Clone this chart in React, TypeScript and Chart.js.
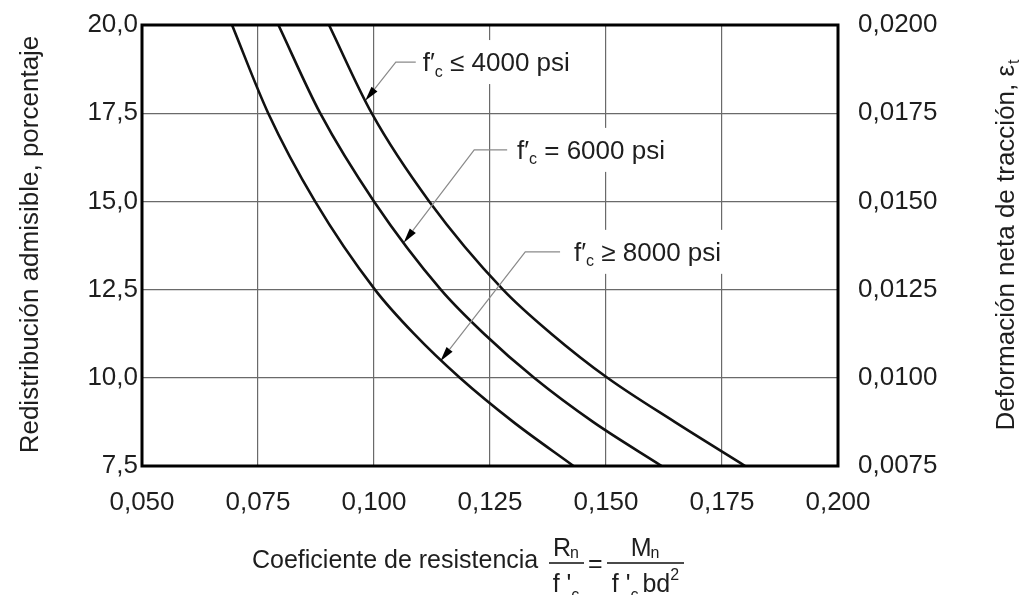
import React, { useEffect, useRef } from 'react';
import { Chart, registerables } from 'chart.js';

Chart.register(...registerables);

// ---- Data ----
const redistLevels = [20, 17.5, 15, 12.5, 11.25, 10, 8.75, 7.5];
const coef4000 = [0.0903, 0.0995, 0.1119, 0.1278, 0.1382, 0.1503, 0.1648, 0.1800];
const coef6000 = [0.0794, 0.0884, 0.1000, 0.1144, 0.1237, 0.1345, 0.1472, 0.1620];
const coef8000 = [0.0694, 0.0772, 0.0873, 0.1002, 0.1086, 0.1185, 0.1300, 0.1430];

const xTickValues = [0.05, 0.075, 0.1, 0.125, 0.15, 0.175, 0.2];
const yTickValues = [7.5, 10, 12.5, 15, 17.5, 20];
const y2TickValues = [0.0075, 0.01, 0.0125, 0.015, 0.0175, 0.02];

const seriesLabels = ['≤ 4000 psi', '= 6000 psi', '≥ 8000 psi'];
// annotation anchors in data coordinates: tip on curve, elbow, end of horizontal leader, text start
const annTipX = [0.0981, 0.1064, 0.1143];
const annTipY = [17.85, 13.83, 10.47];
const annElbowX = [0.1047, 0.1216, 0.1326];
const annElbowY = [18.95, 16.46, 13.57];
const annLineEndX = [0.1090, 0.1287, 0.1401];
const annTextX = [0.1105, 0.1308, 0.1431];

const FONT = '"Liberation Sans", Arial, Helvetica, sans-serif';
const TXT = '#1e1e1e';
const FS = 26;
const SUB = 16;

const toPts = (xs: number[]) => xs.map((x, i) => ({ x, y: redistLevels[i] }));

function drawFC(ctx: CanvasRenderingContext2D, x: number, y: number, rest: string, size: number) {
  ctx.font = `${size}px ${FONT}`;
  ctx.textBaseline = 'alphabetic';
  ctx.textAlign = 'left';
  const base = y + size * 0.36;
  ctx.fillText('f′', x, base);
  let cx = x + ctx.measureText('f′').width;
  ctx.font = `${SUB}px ${FONT}`;
  ctx.fillText('c', cx, base + size * 0.2);
  cx += ctx.measureText('c').width;
  ctx.font = `${size}px ${FONT}`;
  ctx.fillText(' ' + rest, cx, base);
  cx += ctx.measureText(' ' + rest).width;
  return cx;
}

const annotPlugin = {
  id: 'annotPlugin',
  beforeDatasetsDraw(chart: any) {
    const ctx: CanvasRenderingContext2D = chart.ctx;
    const xs = chart.scales.x;
    const ys = chart.scales.y;
    ctx.save();
    for (let i = 0; i < seriesLabels.length; i++) {
      const tx = xs.getPixelForValue(annTextX[i]);
      const ty = ys.getPixelForValue(annElbowY[i]);
      ctx.font = `${FS}px ${FONT}`;
      const w = ctx.measureText('f′c ' + seriesLabels[i]).width;
      ctx.fillStyle = '#ffffff';
      ctx.fillRect(tx - 8, ty - 22, w + 14, 44);
    }
    ctx.restore();
  },
  afterDatasetsDraw(chart: any) {
    const ctx: CanvasRenderingContext2D = chart.ctx;
    const xs = chart.scales.x;
    const ys = chart.scales.y;
    const { left, right, top, bottom } = chart.chartArea;
    ctx.save();
    // frame
    ctx.strokeStyle = '#000';
    ctx.lineWidth = 3;
    ctx.strokeRect(left, top, right - left, bottom - top);

    // annotations
    for (let i = 0; i < seriesLabels.length; i++) {
      const px = xs.getPixelForValue(annTipX[i]);
      const py = ys.getPixelForValue(annTipY[i]);
      const ex = xs.getPixelForValue(annElbowX[i]);
      const ey = ys.getPixelForValue(annElbowY[i]);
      const lx = xs.getPixelForValue(annLineEndX[i]);
      const tx = xs.getPixelForValue(annTextX[i]);
      const dx = px - ex, dy = py - ey;
      const len = Math.hypot(dx, dy);
      const ux = dx / len, uy = dy / len;
      const alen = 15, aw = 3.8;
      const bx = px - ux * alen, by = py - uy * alen;
      ctx.strokeStyle = '#8a8a8a';
      ctx.lineWidth = 1.2;
      ctx.beginPath();
      ctx.moveTo(lx, ey);
      ctx.lineTo(ex, ey);
      ctx.lineTo(bx, by);
      ctx.stroke();
      ctx.fillStyle = '#000';
      ctx.beginPath();
      ctx.moveTo(px, py);
      ctx.lineTo(bx - uy * aw, by + ux * aw);
      ctx.lineTo(bx + uy * aw, by - ux * aw);
      ctx.closePath();
      ctx.fill();
      ctx.fillStyle = TXT;
      drawFC(ctx, tx, ey, seriesLabels[i], FS);
    }

    // left axis title
    ctx.fillStyle = TXT;
    ctx.font = `${FS}px ${FONT}`;
    ctx.textAlign = 'center';
    ctx.textBaseline = 'middle';
    ctx.save();
    ctx.translate(31, (top + bottom) / 2 - 1);
    ctx.rotate(-Math.PI / 2);
    ctx.fillText('Redistribución admisible, porcentaje', 0, 0);
    ctx.restore();

    // right axis title with subscript
    ctx.save();
    ctx.translate(1005, (top + bottom) / 2 + 0);
    ctx.rotate(-Math.PI / 2);
    const rt = 'Deformación neta de tracción, ε';
    ctx.font = `${FS}px ${FONT}`;
    const rw = ctx.measureText(rt).width;
    ctx.font = `${SUB}px ${FONT}`;
    const sw = ctx.measureText('t').width;
    const start = -(rw + sw) / 2;
    ctx.textAlign = 'left';
    ctx.textBaseline = 'alphabetic';
    ctx.font = `${FS}px ${FONT}`;
    ctx.fillText(rt, start, 9);
    ctx.font = `${SUB}px ${FONT}`;
    ctx.fillText('t', start + rw + 1, 14);
    ctx.restore();

    // x axis title with fractions
    const XF = 25;
    ctx.textBaseline = 'alphabetic';
    ctx.textAlign = 'left';
    ctx.font = `${XF}px ${FONT}`;
    ctx.fillText('Coeficiente de resistencia', 252, 568);
    const barY = 563;
    // fraction 1
    const f1L = 549, f1R = 584, f1C = (f1L + f1R) / 2;
    ctx.fillRect(f1L, barY - 0.8, f1R - f1L, 1.6);
    ctx.font = `${XF}px ${FONT}`;
    const rW = ctx.measureText('R').width;
    ctx.font = `${SUB}px ${FONT}`;
    const nW = ctx.measureText('n').width;
    let sx = f1C - (rW + nW) / 2;
    ctx.font = `${XF}px ${FONT}`;
    ctx.fillText('R', sx, 556);
    ctx.font = `${SUB}px ${FONT}`;
    ctx.fillText('n', sx + rW - 1, 558);
    ctx.font = `${XF}px ${FONT}`;
    const fW = ctx.measureText("f '").width;
    sx = f1C - (fW + 9) / 2;
    ctx.fillText("f '", sx, 592);
    ctx.font = `${SUB}px ${FONT}`;
    ctx.fillText('c', sx + fW, 600);
    // equals
    ctx.font = `${XF}px ${FONT}`;
    ctx.fillText('=', 588, 572);
    // fraction 2
    const f2L = 607, f2R = 684, f2C = (f2L + f2R) / 2;
    ctx.fillRect(f2L, barY - 0.8, f2R - f2L, 1.6);
    const mW = ctx.measureText('M').width;
    sx = f2C - (mW + nW) / 2;
    ctx.fillText('M', sx, 556);
    ctx.font = `${SUB}px ${FONT}`;
    ctx.fillText('n', sx + mW - 1, 558);
    ctx.font = `${XF}px ${FONT}`;
    const fpw = ctx.measureText("f '").width;
    ctx.font = `${SUB}px ${FONT}`;
    const cw = ctx.measureText('c').width;
    ctx.font = `${XF}px ${FONT}`;
    const bdw = ctx.measureText(' bd').width;
    ctx.font = `${SUB}px ${FONT}`;
    const tw = ctx.measureText('2').width;
    sx = f2C - (fpw + cw + bdw + tw - 3) / 2;
    ctx.font = `${XF}px ${FONT}`;
    ctx.fillText("f '", sx, 592);
    ctx.font = `${SUB}px ${FONT}`;
    ctx.fillText('c', sx + fpw, 600);
    ctx.font = `${XF}px ${FONT}`;
    ctx.fillText(' bd', sx + fpw + cw - 3, 592);
    ctx.font = `${SUB}px ${FONT}`;
    ctx.fillText('2', sx + fpw + cw + bdw - 3, 580);
    ctx.restore();
  },
};

const comma = (v: number, d: number) => v.toFixed(d).replace('.', ',');

export default function App() {
  const ref = useRef<HTMLCanvasElement | null>(null);
  useEffect(() => {
    if (!ref.current) return;
    const line = (xs: number[]) => ({
      data: toPts(xs),
      borderColor: '#111',
      borderWidth: 2.6,
      pointRadius: 0,
      fill: false,
      cubicInterpolationMode: 'monotone' as const,
      yAxisID: 'y',
    });
    const noPad = (s: any) => { s.paddingTop = 0; s.paddingBottom = 0; };
    const chart = new Chart(ref.current, {
      type: 'line',
      data: {
        datasets: [line(coef4000), line(coef6000), line(coef8000)],
      },
      options: {
        animation: false,
        responsive: false,
        devicePixelRatio: 1,
        layout: { padding: { top: 25, left: 0, right: 0, bottom: 0 } },
        plugins: { legend: { display: false }, tooltip: { enabled: false } },
        scales: {
          x: {
            type: 'linear',
            min: 0.05,
            max: 0.2,
            afterBuildTicks: (s: any) => { s.ticks = xTickValues.map((v) => ({ value: v })); },
            afterFit: (s: any) => { s.height = 129; s.paddingLeft = 0; s.paddingRight = 0; },
            grid: { color: '#6a6a6a', lineWidth: 1.2, drawTicks: false },
            border: { display: false },
            ticks: {
              padding: 21,
              color: TXT,
              font: { size: FS, family: FONT },
              callback: (v: any) => comma(Number(v), 3),
              maxRotation: 0,
              autoSkip: false,
            },
          },
          y: {
            type: 'linear',
            position: 'left',
            min: 7.5,
            max: 20,
            afterBuildTicks: (s: any) => { s.ticks = yTickValues.map((v) => ({ value: v })); },
            afterFit: (s: any) => { s.width = 142; noPad(s); },
            grid: { color: '#6a6a6a', lineWidth: 1.2, drawTicks: false },
            border: { display: false },
            ticks: {
              padding: 4,
              color: TXT,
              font: { size: FS, family: FONT },
              callback: (v: any) => comma(Number(v), 1),
              autoSkip: false,
            },
          },
          y2: {
            type: 'linear',
            position: 'right',
            min: 0.0075,
            max: 0.02,
            afterBuildTicks: (s: any) => { s.ticks = y2TickValues.map((v) => ({ value: v })); },
            afterFit: (s: any) => { s.width = 182; noPad(s); },
            grid: { display: false, drawTicks: false },
            border: { display: false },
            ticks: {
              padding: 20,
              color: TXT,
              font: { size: FS, family: FONT },
              callback: (v: any) => comma(Number(v), 4),
              autoSkip: false,
            },
          },
        },
      },
      plugins: [annotPlugin],
    });
    return () => chart.destroy();
  }, []);
  return (
    <div style={{ position: 'absolute', left: 0, top: 0, width: 1020, height: 595, background: '#fff' }}>
      <canvas ref={ref} width={1020} height={595} style={{ display: 'block' }} />
    </div>
  );
}
